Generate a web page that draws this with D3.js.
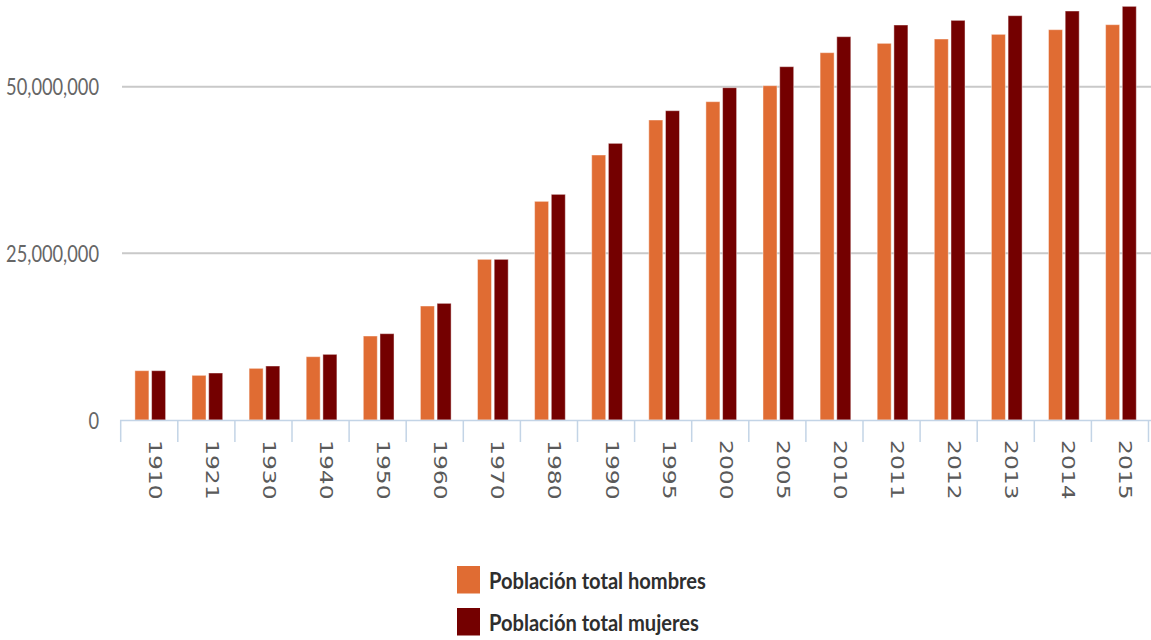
<!DOCTYPE html>
<html>
<head>
<meta charset="utf-8">
<script src="https://cdn.jsdelivr.net/npm/d3@7"></script>
<style>
  html, body { margin: 0; padding: 0; background: #fff; }
  svg { display: block; }
</style>
</head>
<body>
<svg id="chart" width="1151" height="640"></svg>
<script>
// Población total por sexo, por año censal
const years = ["1910", "1921", "1930", "1940", "1950", "1960", "1970", "1980", "1990",
               "1995", "2000", "2005", "2010", "2011", "2012", "2013", "2014", "2015"];
const hombres = [7400000, 6700000, 7750000, 9500000, 12600000, 17100000, 24100000, 32800000, 39750000,
                 45000000, 47750000, 50150000, 55100000, 56500000, 57150000, 57850000, 58550000, 59300000];
const mujeres = [7400000, 7050000, 8100000, 9850000, 12950000, 17500000, 24100000, 33850000, 41500000,
                 46400000, 49850000, 53000000, 57500000, 59250000, 59950000, 60650000, 61350000, 62050000];
const seriesNames = ["Población total hombres", "Población total mujeres"];
const seriesColors = ["#e06c33", "#740000"];
const yTicks = [0, 25000000, 50000000];

const svg = d3.select("#chart");

const x0 = d3.scaleBand().domain(years).range([120.7, 1148.5]).paddingInner(0).paddingOuter(0);
const x1 = d3.scaleBand().domain([0, 1]).range([0, x0.bandwidth()]).paddingInner(0.16).paddingOuter(0.79);
const y = d3.scaleLinear().domain([0, 63000000]).range([420, 0]);

// fit a text node to a target width by adjusting its font size
function fitWidth(sel, baseSize, target) {
  const len = sel.node().getComputedTextLength();
  return len > 0 ? baseSize * target / len : baseSize;
}

// horizontal gridlines
svg.append("g").selectAll("line")
  .data(yTicks.filter(d => d > 0))
  .join("line")
  .attr("x1", 122).attr("x2", 1151)
  .attr("y1", d => y(d)).attr("y2", d => y(d))
  .attr("stroke", "#c9c9c9").attr("stroke-width", 2);

// y-axis labels
const yAxis = d3.axisLeft(y).tickValues(yTicks).tickSize(0).tickPadding(0)
  .tickFormat(d3.format(","));
const yg = svg.append("g").attr("transform", "translate(99,0)").call(yAxis);
yg.select(".domain").remove();
const ylab = yg.selectAll("text")
  .attr("x", 0).attr("y", 0).attr("dy", "0.36em")
  .attr("fill", "#666666")
  .style("font-family", "Lato, 'Open Sans', sans-serif")
  .style("font-size", "18px");
const yfs = fitWidth(ylab.filter(d => d === 50000000), 18, 93);
ylab.style("font-size", yfs.toFixed(2) + "px")
  .attr("transform", "scale(1,1.22)");

// bars
const rows = years.map((yr, i) => ({ year: yr, values: [hombres[i], mujeres[i]] }));
const groups = svg.append("g").selectAll("g")
  .data(rows)
  .join("g")
  .attr("transform", d => `translate(${x0(d.year) + 1},0)`);
groups.selectAll("rect")
  .data(d => d.values.map((v, k) => ({ v, k })))
  .join("rect")
  .attr("x", d => x1(d.k))
  .attr("width", x1.bandwidth())
  .attr("y", d => y(d.v))
  .attr("height", d => y(0) - y(d.v))
  .attr("fill", d => seriesColors[d.k])
  .attr("stroke", "#ffffff").attr("stroke-opacity", 0.45).attr("stroke-width", 1);

// x axis: baseline, band separators, rotated year labels
const xg = svg.append("g");
xg.append("line")
  .attr("x1", 120).attr("x2", 1151).attr("y1", 420.5).attr("y2", 420.5)
  .attr("stroke", "#c3d4e6").attr("stroke-width", 1.5);
const bounds = years.map(d => x0(d)).concat([x0.range()[1]]);
xg.selectAll("line.sep")
  .data(bounds)
  .join("line")
  .attr("class", "sep")
  .attr("x1", d => d).attr("x2", d => d)
  .attr("y1", 420).attr("y2", 442)
  .attr("stroke", "#c3d4e6").attr("stroke-width", 1.5);
xg.selectAll("text")
  .data(years)
  .join("text")
  .attr("transform", d => `translate(${x0(d) + x0.bandwidth() / 2 - 0.5},440) rotate(90) scale(1.3,1)`)
  .attr("text-anchor", "start")
  .attr("fill", "#5a5a5a")
  .style("font-family", "'DejaVu Sans', sans-serif")
  .style("font-size", "18px")
  .text(d => d);

// legend
const legend = svg.append("g");
const legendRows = seriesNames.map((name, i) => ({ name, color: seriesColors[i], i }));
const item = legend.selectAll("g")
  .data(legendRows)
  .join("g")
  .attr("transform", d => `translate(457,${566 + d.i * 42})`);
item.append("rect")
  .attr("width", 23).attr("height", 27.5)
  .attr("fill", d => d.color);
const ltext = item.append("text")
  .attr("transform", "translate(32,23) scale(1,1.16)")
  .attr("fill", "#2e2e2e")
  .style("font-family", "Lato, 'Open Sans', sans-serif")
  .style("font-weight", "bold")
  .style("font-size", "18px")
  .text(d => d.name);
// size the first legend label to its target width, then use that size for both
const lfs = fitWidth(ltext.filter(d => d.i === 0), 18, 217);
ltext.style("font-size", lfs.toFixed(2) + "px");
</script>
</body>
</html>
